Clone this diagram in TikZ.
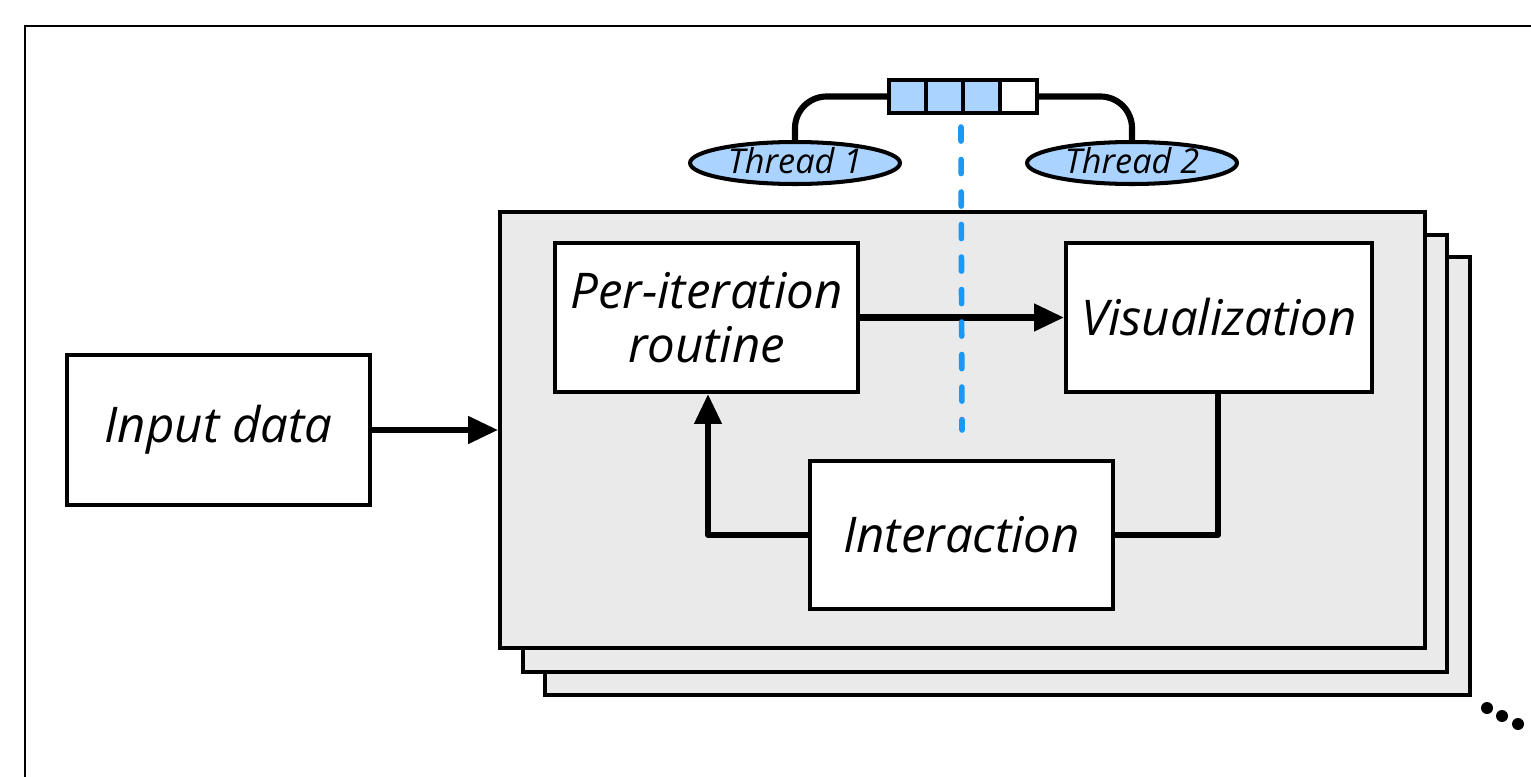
\documentclass[tikz,border=0pt]{standalone}
\usepackage{fontspec}
\setmainfont{Open Sans}
\usetikzlibrary{arrows.meta,shapes.geometric}
\definecolor{qblue}{HTML}{AAD4FF}
\definecolor{dblue}{HTML}{1A98F5}
\definecolor{panel}{HTML}{EAEAEA}
\tikzset{
  box/.style={draw=black, line width=2.3pt, fill=white, rectangle, inner sep=0pt, align=center, font=\fontsize{28}{31}\selectfont\itshape},
  panelbox/.style={draw=black, line width=2.3pt, fill=panel, rectangle, inner sep=0pt},
  conn/.style={line width=3.5pt, line join=round},
  arr/.style={conn, -{Triangle[length=17pt,width=15pt]}},
  thread/.style={draw=black, line width=2.3pt, fill=qblue, ellipse, inner sep=0pt, minimum width=4.2cm, minimum height=0.84cm},
  threadtext/.style={inner sep=0pt, font=\fontsize{19.5}{24}\selectfont\itshape},
  cell/.style={draw=black, line width=2.3pt, rectangle, inner sep=0pt, minimum width=0.74cm, minimum height=0.66cm},
}
\begin{document}
\begin{tikzpicture}[x=0.02cm,y=-0.02cm]
\useasboundingbox (0,0) rectangle (1531,777);
\clip (0,0) rectangle (1531,777);
% outer frame
\draw[line width=1.6pt] (25,26) rectangle (1560,800);
% stacked panels
\node[panelbox, minimum width=18.5cm, minimum height=8.76cm] (p3) at (1007.5,476) {};
\node[panelbox, minimum width=18.48cm, minimum height=8.74cm] (p2) at (985,453.5) {};
\node[panelbox, minimum width=18.5cm, minimum height=8.72cm] (p1) at (962.5,430) {};
% dots
\fill (1487,708) circle (6) coordinate (d1);
\fill (1502,716) circle (6) coordinate (d2);
\fill (1518,724) circle (6) coordinate (d3);
% boxes
\node[box, minimum width=6.06cm, minimum height=3.0cm] (input) at (218.5,430) {Input data};
\node[box, minimum width=6.06cm, minimum height=2.98cm] (per) at (706.5,317.5) {Per-iteration\\routine};
\node[box, minimum width=6.12cm, minimum height=2.98cm] (vis) at (1219,317.5) {Visualization};
\node[box, minimum width=6.06cm, minimum height=2.96cm] (inter) at (961.5,535) {Interaction};
% connectors
\draw[arr] (input.east) -- (p1.west |- input.east);
\draw[arr] (per.east) -- (vis.west);
\draw[conn] (vis.south -| 1218,0) |- (inter.east);
\draw[arr] (inter.west) -| (708,0 |- per.south);
% queue
\node[cell, fill=qblue] (q1) at (907.5,96.5) {};
\node[cell, fill=qblue] (q2) at (944.5,96.5) {};
\node[cell, fill=qblue] (q3) at (981.5,96.5) {};
\node[cell, fill=white] (q4) at (1018.5,96.5) {};
% threads
\node[thread] (t1) at (795,163) {};
\node[threadtext] (t1l) at ([yshift=1.5pt]t1.center) {Thread 1};
\node[thread] (t2) at (1132,163) {};
\node[threadtext] (t2l) at ([yshift=1.5pt]t2.center) {Thread 2};
\draw[conn, rounded corners=18] (q1.west) -| (t1.north);
\draw[conn, rounded corners=18] (q4.east) -| (t2.north);
% dashed line
\coordinate (dend) at (962,430);
\draw[dblue, line width=3.2pt, line cap=round, dash pattern=on 8pt off 10.5pt] (q3.south west) ++(0,12) -- (dend);
\end{tikzpicture}
\end{document}
